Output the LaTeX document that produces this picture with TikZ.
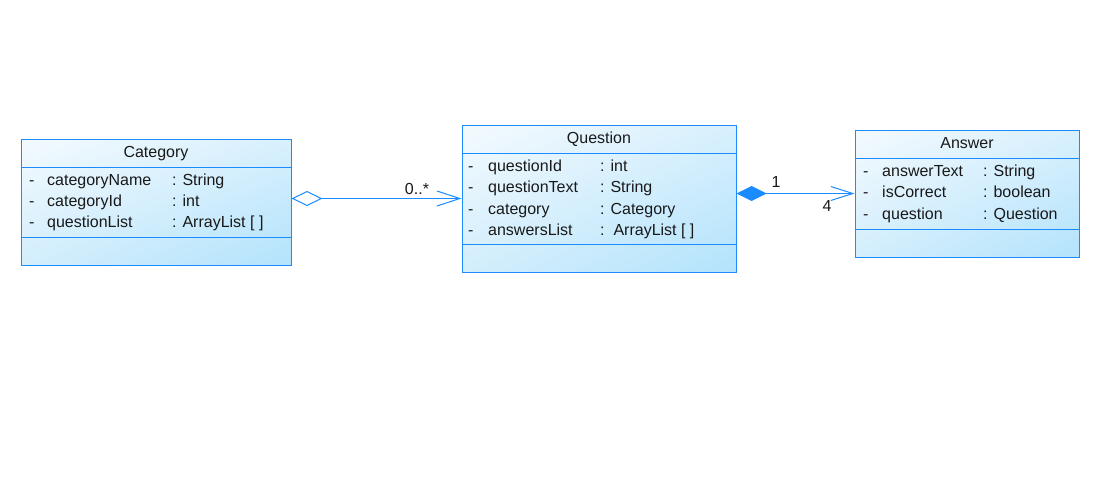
\documentclass[tikz,border=0pt]{standalone}
\usepackage{fontspec}
\setmainfont{Liberation Sans}
\usetikzlibrary{arrows.meta,calc,shadings}
\definecolor{umlblue}{HTML}{1A8CFF}
\definecolor{ulc}{HTML}{F4FAFE}
\definecolor{urc}{HTML}{D8F0FD}
\definecolor{llc}{HTML}{D3EEFC}
\definecolor{lrc}{HTML}{B3E3FC}
\begin{document}
\begin{tikzpicture}[x=1pt,y=-1pt,
  classbox/.style={draw=umlblue,line width=1pt,shade,upper left=ulc,upper right=urc,lower left=llc,lower right=lrc,inner sep=0pt,rectangle},
  sep/.style={draw=umlblue,line width=1pt},
  txt/.style={anchor=base west,inner sep=0pt,font=\fontsize{16}{19}\selectfont,text=black!90},
  ttl/.style={anchor=base,inner sep=0pt,font=\fontsize{16}{19}\selectfont,text=black!90},
  conn/.style={draw=umlblue,line width=1pt},
  lbl/.style={inner sep=0pt,font=\fontsize{16}{19}\selectfont,text=black!90}]
\path[use as bounding box,fill=white] (0,0) rectangle (1111,477);

% Category
\node[classbox,minimum width=270pt,minimum height=126pt] (cat) at (156,202) {};
\draw[sep] (21,167) -- (291,167);
\draw[sep] (21,237) -- (291,237);
\node[ttl] (catT) at (156,157) {Category};
\node[txt] (c1a) at (29,185) {-};
\node[txt] (c1b) at (47,185) {categoryName};
\node[txt] (c1c) at (172,185) {: String};
\node[txt] (c2a) at (29,206) {-};
\node[txt] (c2b) at (47,206) {categoryId};
\node[txt] (c2c) at (172,206) {: int};
\node[txt] (c3a) at (29,227) {-};
\node[txt] (c3b) at (47,227) {questionList};
\node[txt] (c3c) at (172,227) {: ArrayList [ ]};

% Question
\node[classbox,minimum width=274pt,minimum height=147pt] (q) at (599,198.5) {};
\draw[sep] (462,153) -- (736,153);
\draw[sep] (462,244) -- (736,244);
\node[ttl] (qT) at (599,143) {Question};
\node[txt] (q1a) at (468,171) {-};
\node[txt] (q1b) at (488,171) {questionId};
\node[txt] (q1c) at (600,171) {: int};
\node[txt] (q2a) at (468,192) {-};
\node[txt] (q2b) at (488,192) {questionText};
\node[txt] (q2c) at (600,192) {: String};
\node[txt] (q3a) at (468,214) {-};
\node[txt] (q3b) at (488,214) {category};
\node[txt] (q3c) at (600,214) {: Category};
\node[txt] (q4a) at (468,235) {-};
\node[txt] (q4b) at (488,235) {answersList};
\node[txt] (q4c) at (600,235) {:\ \ ArrayList [ ]};

% Answer
\node[classbox,minimum width=224pt,minimum height=127pt] (a) at (967,193.5) {};
\draw[sep] (855,158) -- (1079,158);
\draw[sep] (855,229) -- (1079,229);
\node[ttl] (aT) at (967,148) {Answer};
\node[txt] (a1a) at (863,176) {-};
\node[txt] (a1b) at (882,176) {answerText};
\node[txt] (a1c) at (983,176) {: String};
\node[txt] (a2a) at (863,197) {-};
\node[txt] (a2b) at (882,197) {isCorrect};
\node[txt] (a2c) at (983,197) {: boolean};
\node[txt] (a3a) at (863,219) {-};
\node[txt] (a3b) at (882,219) {question};
\node[txt] (a3c) at (983,219) {: Question};

% connectors
\draw[conn,{Diamond[open,length=31pt,width=15pt,line width=1pt]}-{Straight Barb[length=23pt,width=15pt,line width=1pt]}] (cat.east |- q.west) -- (q.west);
\node[lbl] (m1) at (417,189) {0..*};
\draw[conn,{Diamond[length=30pt,width=15pt,fill=umlblue]}-{Straight Barb[length=22pt,width=14pt,line width=1pt]}] (q.east |- a.west) -- (a.west);
\node[lbl] (m2) at (776,182) {1};
\node[lbl] (m3) at (827,206) {4};
\end{tikzpicture}
\end{document}
